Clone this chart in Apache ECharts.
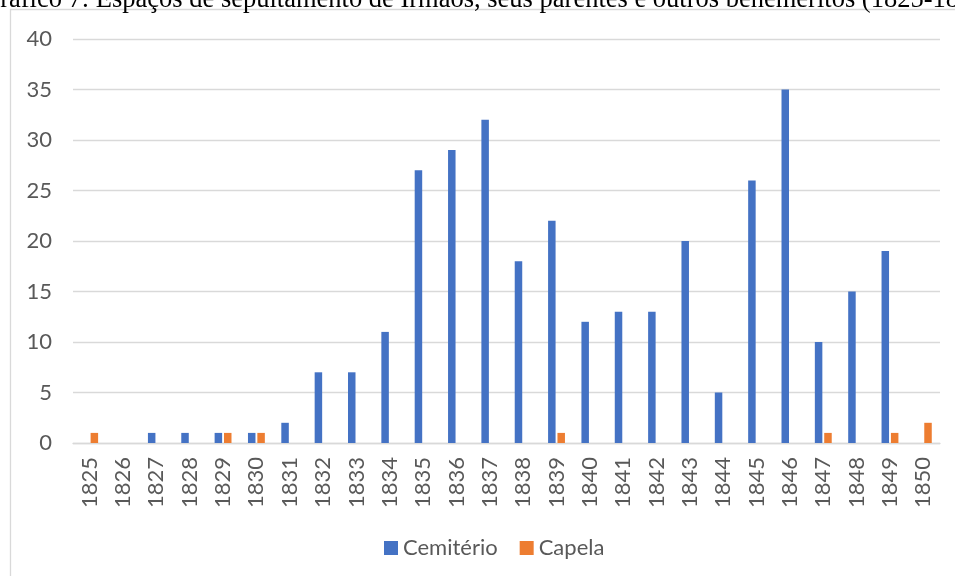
<!DOCTYPE html>
<html>
<head>
<meta charset="utf-8">
<script src="https://cdn.jsdelivr.net/npm/echarts@6/dist/echarts.min.js"></script>
<style>html,body{margin:0;padding:0;background:#fff}#c{width:955px;height:576px}</style>
</head>
<body>
<div id="c"></div>
<script>
const titleText = 'Gráfico 7: Espaços de sepultamento de Irmãos, seus parentes e outros benemeritos (1825-1850)';
const years = ['1825','1826','1827','1828','1829','1830','1831','1832','1833','1834','1835','1836','1837','1838','1839','1840','1841','1842','1843','1844','1845','1846','1847','1848','1849','1850'];
const cemiterio = [0,0,1,1,1,1,2,7,7,11,27,29,32,18,22,12,13,13,20,5,26,35,10,15,19,0];
const capela =    [1,0,0,0,1,1,0,0,0,0,0,0,0,0,1,0,0,0,0,0,0,0,1,0,1,2];
const seriesNames = ['Cemitério','Capela'];

const chart = echarts.init(document.getElementById('c'));
const txt = '#595959';
const font = 'Lato';
chart.setOption({
  animation: false,
  graphic: [
    {type:'rect', shape:{x:10.5, y:9.5, width:1000, height:700}, style:{fill:'none', stroke:'#d9d9d9', lineWidth:1.3}, z:0},
    {type:'text', x:-19, y:14, style:{text:titleText, font:'26.5px "Liberation Serif"', fill:'#000', verticalAlign:'bottom', align:'left'}, z:10}
  ],
  grid: {left:73, right:15, top:39, bottom:133, containLabel:false},
  legend: {
    data: seriesNames, left:384, top:537, padding:0, itemWidth:14, itemHeight:14, itemGap:22,
    icon:'rect',
    textStyle:{color:txt, fontSize:22, fontFamily:font, padding:[0,0,0,0]}
  },
  xAxis: {
    type:'category', data:years,
    axisLine:{lineStyle:{color:'#d9d9d9', width:1.3}},
    axisTick:{show:false},
    axisLabel:{rotate:90, color:txt, fontSize:22, fontFamily:font, margin:14, interval:0}
  },
  yAxis: {
    type:'value', min:0, max:40, interval:5,
    axisLine:{show:false}, axisTick:{show:false},
    splitLine:{lineStyle:{color:'#d9d9d9', width:1.3}},
    axisLabel:{color:txt, fontSize:22, fontFamily:font, margin:21}
  },
  series: [
    {name:seriesNames[0], type:'bar', data:cemiterio, barWidth:7.5, barGap:'25%', itemStyle:{color:'#4472C4'}},
    {name:seriesNames[1], type:'bar', data:capela, barWidth:7.5, barGap:'25%', itemStyle:{color:'#ED7D31'}}
  ]
});
</script>
</body>
</html>
